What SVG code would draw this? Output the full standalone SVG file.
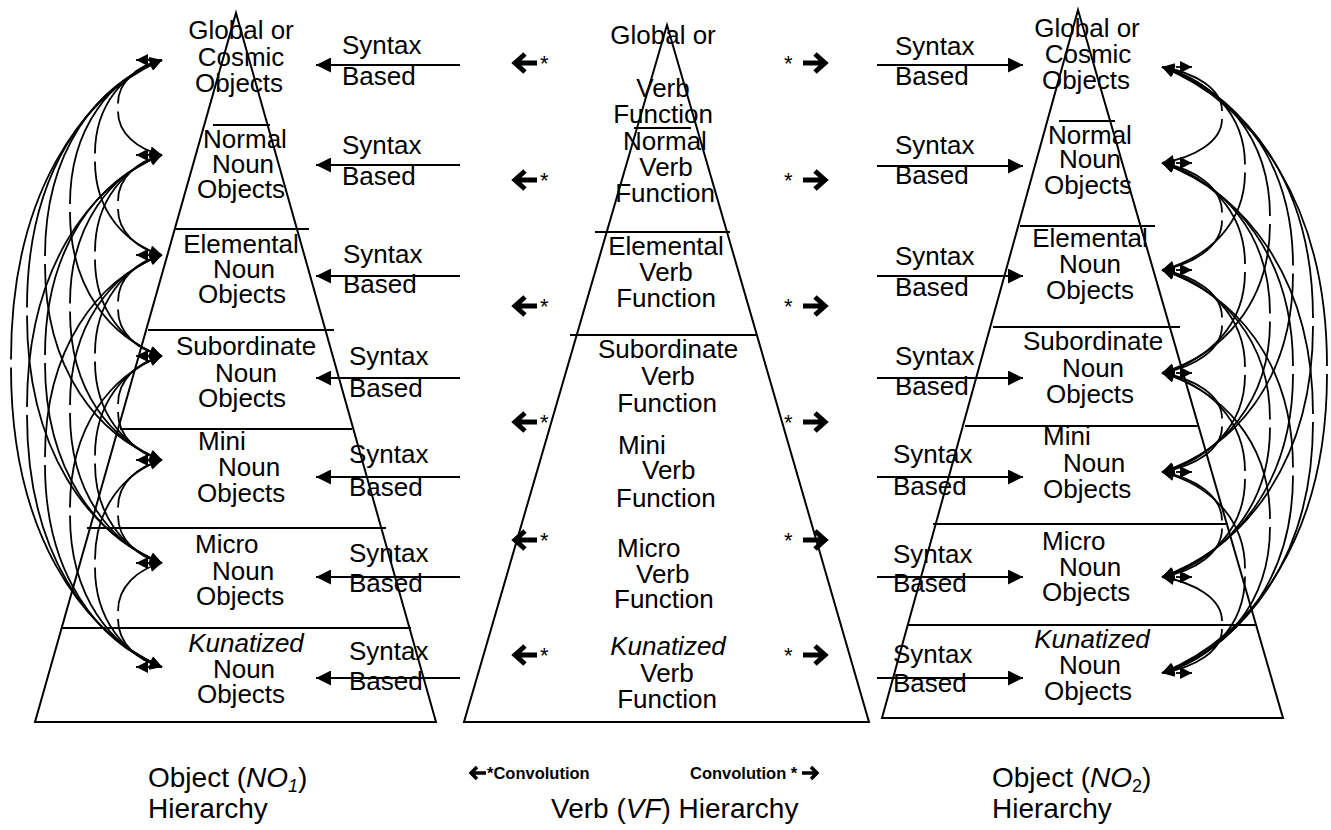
<svg xmlns="http://www.w3.org/2000/svg" width="1331" height="830" viewBox="0 0 1331 830">
  <defs>
    <style>
      .t { font-family: "Liberation Sans", Arial, sans-serif; font-size: 26px; fill: #000; }
      .cap { font-family: "Liberation Sans", Arial, sans-serif; font-size: 28px; fill: #000; }
      .c { text-anchor: middle; }
      .i { font-style: italic; }
      .ast { font-family: "Liberation Sans", Arial, sans-serif; font-size: 22px; fill: #000; }
      .leg { font-family: "Liberation Sans", Arial, sans-serif; font-size: 16.5px; font-weight: bold; fill: #000; }
      .edge { fill: none; stroke: #000; stroke-width: 2; }
      .div { stroke: #000; stroke-width: 2; }
      .syn { stroke: #000; stroke-width: 2; fill: none; marker-end: url(#tri); }
      .arc { fill: none; stroke: #000; stroke-width: 1.8; marker-start: url(#ah); marker-end: url(#ah); }
      .stub { fill: none; stroke: #000; stroke-width: 1.8; marker-end: url(#ah); }
      .conv { fill: none; stroke: #000; stroke-width: 5; stroke-linejoin: miter; }
    </style>
    <marker id="tri" viewBox="0 0 10 10" refX="10" refY="5" markerWidth="18" markerHeight="15" markerUnits="userSpaceOnUse" orient="auto">
      <path d="M0,0 L10,5 L0,10 z" fill="#000"/>
    </marker>
    <marker id="ah" viewBox="0 0 10 10" refX="10" refY="5" markerWidth="14" markerHeight="12" markerUnits="userSpaceOnUse" orient="auto-start-reverse">
      <path d="M0,0 L10,5 L0,10 z" fill="#000"/>
    </marker>
  </defs>
  <rect width="1331" height="830" fill="#fff"/>

  <!-- Object hierarchy NO1 (left pyramid) -->
  <g id="no1-pyramid">
    <polygon class="edge" points="236,13 436,722 35,722"/>
    <line class="div" x1="213" y1="125" x2="270" y2="125"/>
    <line class="div" x1="175" y1="229" x2="309" y2="229"/>
    <line class="div" x1="148" y1="330" x2="334" y2="330"/>
    <line class="div" x1="120" y1="429" x2="352" y2="429"/>
    <line class="div" x1="87" y1="528" x2="386" y2="528"/>
    <line class="div" x1="62" y1="628" x2="411" y2="628"/>
  </g>
  <g id="no1-global">
    <text class="t c" x="241" y="39">Global or</text>
    <text class="t c" x="241" y="66">Cosmic</text>
    <text class="t c" x="239" y="92">Objects</text>
  </g>
  <g id="no1-normal">
    <text class="t c" x="245" y="148">Normal</text>
    <text class="t c" x="243" y="173">Noun</text>
    <text class="t c" x="241" y="198">Objects</text>
  </g>
  <g id="no1-elemental">
    <text class="t c" x="241" y="253">Elemental</text>
    <text class="t c" x="244" y="278">Noun</text>
    <text class="t c" x="242" y="303">Objects</text>
  </g>
  <g id="no1-subordinate">
    <text class="t c" x="246" y="355">Subordinate</text>
    <text class="t c" x="246" y="382">Noun</text>
    <text class="t c" x="242" y="407">Objects</text>
  </g>
  <g id="no1-mini">
    <text class="t" x="198" y="450">Mini</text>
    <text class="t" x="218" y="476">Noun</text>
    <text class="t" x="197" y="502">Objects</text>
  </g>
  <g id="no1-micro">
    <text class="t" x="195" y="553">Micro</text>
    <text class="t" x="212" y="580">Noun</text>
    <text class="t" x="196" y="605">Objects</text>
  </g>
  <g id="no1-kunatized">
    <text class="t c i" x="246" y="652">Kunatized</text>
    <text class="t c" x="244" y="678">Noun</text>
    <text class="t c" x="241" y="703">Objects</text>
  </g>

  <!-- Verb hierarchy VF (middle pyramid) -->
  <g id="vf-pyramid">
    <polygon class="edge" points="667,25 869,722 464,722"/>
    <line class="div" x1="634" y1="128" x2="691" y2="128"/>
    <line class="div" x1="595" y1="232" x2="730" y2="232"/>
    <line class="div" x1="570" y1="335" x2="756" y2="335"/>
  </g>
  <g id="vf-global">
    <text class="t c" x="663" y="44">Global or</text>
    <text class="t c" x="663" y="97">Verb</text>
    <text class="t c" x="663" y="123">Function</text>
  </g>
  <g id="vf-normal">
    <text class="t c" x="665" y="150">Normal</text>
    <text class="t c" x="666" y="176">Verb</text>
    <text class="t c" x="665" y="202">Function</text>
  </g>
  <g id="vf-elemental">
    <text class="t c" x="666" y="255">Elemental</text>
    <text class="t c" x="666" y="281">Verb</text>
    <text class="t c" x="666" y="307">Function</text>
  </g>
  <g id="vf-subordinate">
    <text class="t c" x="668" y="358">Subordinate</text>
    <text class="t c" x="668" y="385">Verb</text>
    <text class="t c" x="667" y="412">Function</text>
  </g>
  <g id="vf-mini">
    <text class="t" x="618" y="454">Mini</text>
    <text class="t" x="642" y="479">Verb</text>
    <text class="t" x="616" y="507">Function</text>
  </g>
  <g id="vf-micro">
    <text class="t" x="617" y="557">Micro</text>
    <text class="t" x="636" y="583">Verb</text>
    <text class="t" x="614" y="608">Function</text>
  </g>
  <g id="vf-kunatized">
    <text class="t c i" x="668" y="655">Kunatized</text>
    <text class="t c" x="667" y="682">Verb</text>
    <text class="t c" x="667" y="708">Function</text>
  </g>

  <!-- Object hierarchy NO2 (right pyramid) -->
  <g id="no2-pyramid">
    <polygon class="edge" points="1078,10 1283,718 882,718"/>
    <line class="div" x1="1059" y1="121" x2="1115" y2="121"/>
    <line class="div" x1="1020" y1="226" x2="1155" y2="226"/>
    <line class="div" x1="993" y1="327" x2="1180" y2="327"/>
    <line class="div" x1="965" y1="426" x2="1198" y2="426"/>
    <line class="div" x1="933" y1="524" x2="1228" y2="524"/>
    <line class="div" x1="908" y1="625" x2="1257" y2="625"/>
  </g>
  <g id="no2-global">
    <text class="t c" x="1087" y="37">Global or</text>
    <text class="t c" x="1088" y="63">Cosmic</text>
    <text class="t c" x="1086" y="89">Objects</text>
  </g>
  <g id="no2-normal">
    <text class="t c" x="1090" y="144">Normal</text>
    <text class="t c" x="1090" y="168">Noun</text>
    <text class="t c" x="1088" y="194">Objects</text>
  </g>
  <g id="no2-elemental">
    <text class="t c" x="1090" y="247">Elemental</text>
    <text class="t c" x="1090" y="273">Noun</text>
    <text class="t c" x="1090" y="299">Objects</text>
  </g>
  <g id="no2-subordinate">
    <text class="t c" x="1093" y="350">Subordinate</text>
    <text class="t c" x="1093" y="377">Noun</text>
    <text class="t c" x="1090" y="403">Objects</text>
  </g>
  <g id="no2-mini">
    <text class="t" x="1043" y="445">Mini</text>
    <text class="t" x="1063" y="472">Noun</text>
    <text class="t" x="1043" y="498">Objects</text>
  </g>
  <g id="no2-micro">
    <text class="t" x="1042" y="550">Micro</text>
    <text class="t" x="1059" y="576">Noun</text>
    <text class="t" x="1042" y="601">Objects</text>
  </g>
  <g id="no2-kunatized">
    <text class="t c i" x="1092" y="648">Kunatized</text>
    <text class="t c" x="1090" y="674">Noun</text>
    <text class="t c" x="1088" y="700">Objects</text>
  </g>

  <!-- Syntax Based labels -->
  <g id="syntax-labels-left">
    <text class="t" x="342" y="54">Syntax</text><text class="t" x="342" y="85">Based</text>
    <text class="t" x="342" y="154">Syntax</text><text class="t" x="342" y="185">Based</text>
    <text class="t" x="343" y="263">Syntax</text><text class="t" x="343" y="293">Based</text>
    <text class="t" x="349" y="365">Syntax</text><text class="t" x="349" y="397">Based</text>
    <text class="t" x="349" y="463">Syntax</text><text class="t" x="349" y="496">Based</text>
    <text class="t" x="349" y="562">Syntax</text><text class="t" x="349" y="592">Based</text>
    <text class="t" x="349" y="660">Syntax</text><text class="t" x="349" y="690">Based</text>
  </g>
  <g id="syntax-labels-right">
    <text class="t" x="895" y="55">Syntax</text><text class="t" x="895" y="85">Based</text>
    <text class="t" x="895" y="154">Syntax</text><text class="t" x="895" y="184">Based</text>
    <text class="t" x="895" y="265">Syntax</text><text class="t" x="895" y="296">Based</text>
    <text class="t" x="895" y="365">Syntax</text><text class="t" x="895" y="395">Based</text>
    <text class="t" x="893" y="463">Syntax</text><text class="t" x="893" y="495">Based</text>
    <text class="t" x="893" y="563">Syntax</text><text class="t" x="893" y="592">Based</text>
    <text class="t" x="893" y="663">Syntax</text><text class="t" x="893" y="692">Based</text>
  </g>

  <!-- Convolution asterisks -->
  <g id="convolution-marks">
    <text class="ast" x="540" y="71">*</text><text class="ast" x="784" y="71">*</text>
    <text class="ast" x="540" y="188">*</text><text class="ast" x="784" y="188">*</text>
    <text class="ast" x="540" y="314">*</text><text class="ast" x="784" y="314">*</text>
    <text class="ast" x="540" y="430">*</text><text class="ast" x="784" y="430">*</text>
    <text class="ast" x="540" y="548">*</text><text class="ast" x="784" y="548">*</text>
    <text class="ast" x="540" y="663">*</text><text class="ast" x="784" y="663">*</text>
  </g>

  <!-- Captions -->
  <g id="captions">
    <text class="cap" x="148" y="787">Object (<tspan class="i">NO</tspan><tspan class="i" font-size="18" dy="5">1</tspan><tspan dy="-5">)</tspan></text>
    <text class="cap" x="148" y="818">Hierarchy</text>
    <text class="cap" x="551" y="818">Verb (<tspan class="i">VF</tspan>) Hierarchy</text>
    <text class="leg" x="487" y="779">*Convolution</text>
    <text class="leg" x="690" y="779">Convolution *</text>
    <text class="cap" x="992" y="787">Object (<tspan class="i">NO</tspan><tspan font-size="18" dy="5">2</tspan><tspan dy="-5">)</tspan></text>
    <text class="cap" x="992" y="818">Hierarchy</text>
  </g>

  <!-- Connectors -->
  <g id="connectors">
    <!-- syntax arrows into NO1 -->
    <path class="syn" d="M460,65 H316"/>
    <path class="syn" d="M460,165 H316"/>
    <path class="syn" d="M460,276 H316"/>
    <path class="syn" d="M460,378 H316"/>
    <path class="syn" d="M460,477 H316"/>
    <path class="syn" d="M460,577 H316"/>
    <path class="syn" d="M460,678 H316"/>
    <!-- syntax arrows into NO2 -->
    <path class="syn" d="M877,65 H1023"/>
    <path class="syn" d="M877,166 H1023"/>
    <path class="syn" d="M877,276 H1023"/>
    <path class="syn" d="M877,378 H1023"/>
    <path class="syn" d="M877,477 H1023"/>
    <path class="syn" d="M877,577 H1023"/>
    <path class="syn" d="M877,678 H1023"/>

    <!-- bold convolution arrows beside the verb hierarchy -->
    <path class="conv" d="M537,63 H517 M525,54 L515,63 L525,72"/>
    <path class="conv" d="M537,180 H517 M525,171 L515,180 L525,189"/>
    <path class="conv" d="M537,306 H517 M525,297 L515,306 L525,315"/>
    <path class="conv" d="M537,422 H517 M525,413 L515,422 L525,431"/>
    <path class="conv" d="M537,540 H517 M525,531 L515,540 L525,549"/>
    <path class="conv" d="M537,655 H517 M525,646 L515,655 L525,664"/>
    <path class="conv" d="M803,63 H823 M815,54 L825,63 L815,72"/>
    <path class="conv" d="M803,180 H823 M815,171 L825,180 L815,189"/>
    <path class="conv" d="M803,306 H823 M815,297 L825,306 L815,315"/>
    <path class="conv" d="M803,422 H823 M815,413 L825,422 L815,431"/>
    <path class="conv" d="M803,540 H823 M815,531 L825,540 L815,549"/>
    <path class="conv" d="M803,655 H823 M815,646 L825,655 L815,664"/>
    <path class="conv" style="stroke-width:3.5" d="M486,773 H472 M477,767 L471,773 L477,779"/>
    <path class="conv" style="stroke-width:3.5" d="M802,773 H816 M811,767 L817,773 L811,779"/>

    <!-- NO1 cross-level arcs -->
    <path class="stub" d="M150,60 H136"/>
    <path class="stub" d="M150,155 H136"/>
    <path class="stub" d="M150,255 H136"/>
    <path class="stub" d="M150,356 H136"/>
    <path class="stub" d="M150,460 H136"/>
    <path class="stub" d="M150,563 H136"/>
    <path class="stub" d="M150,667 H136"/>
    <path class="arc" d="M162,60 C137.8,65.7 118,81.4 118,103.5 M118,111.5 C118,133.6 137.8,149.3 162,155"/>
    <path class="arc" d="M162,155 C137.8,161 118,177.5 118,201 M118,209 C118,232.5 137.8,249 162,255"/>
    <path class="arc" d="M162,255 C137.8,261.1 118,277.7 118,301.5 M118,309.5 C118,333.3 137.8,349.9 162,356"/>
    <path class="arc" d="M162,356 C137.8,362.2 118,379.4 118,404 M118,412 C118,436.6 137.8,453.8 162,460"/>
    <path class="arc" d="M162,460 C137.8,466.2 118,483.2 118,507.5 M118,515.5 C118,539.8 137.8,556.8 162,563"/>
    <path class="arc" d="M162,563 C137.8,569.2 118,586.4 118,611 M118,619 C118,643.6 137.8,660.8 162,667"/>
    <path class="arc" d="M162,60 C125.1,71.7 95,103.9 95,153.5 M95,161.5 C95,211.1 125.1,243.3 162,255"/>
    <path class="arc" d="M162,155 C125.1,167.1 95,200.2 95,251.5 M95,259.5 C95,310.8 125.1,343.9 162,356"/>
    <path class="arc" d="M162,255 C125.1,267.3 95,301.1 95,353.5 M95,361.5 C95,413.9 125.1,447.7 162,460"/>
    <path class="arc" d="M162,356 C125.1,368.4 95,402.6 95,455.5 M95,463.5 C95,516.4 125.1,550.6 162,563"/>
    <path class="arc" d="M162,460 C125.1,472.4 95,506.6 95,559.5 M95,567.5 C95,620.4 125.1,654.6 162,667"/>
    <path class="arc" d="M162,60 C111.4,77.8 70,126.6 70,204 M70,212 C70,289.4 111.4,338.2 162,356"/>
    <path class="arc" d="M162,155 C111.4,173.3 70,223.6 70,303.5 M70,311.5 C70,391.4 111.4,441.7 162,460"/>
    <path class="arc" d="M162,255 C111.4,273.5 70,324.3 70,405 M70,413 C70,493.7 111.4,544.5 162,563"/>
    <path class="arc" d="M162,356 C111.4,374.7 70,426 70,507.5 M70,515.5 C70,597 111.4,648.3 162,667"/>
    <path class="arc" d="M162,60 C97.6,84 45,150 45,256 M45,264 C45,370 97.6,436 162,460"/>
    <path class="arc" d="M162,155 C97.6,179.5 45,246.8 45,355 M45,363 C45,471.2 97.6,538.5 162,563"/>
    <path class="arc" d="M162,255 C97.6,279.7 45,347.7 45,457 M45,465 C45,574.3 97.6,642.3 162,667"/>
    <path class="arc" d="M162,60 C87.7,90.2 27,173.2 27,307.5 M27,315.5 C27,449.8 87.7,532.8 162,563"/>
    <path class="arc" d="M162,155 C87.7,185.7 27,270.2 27,407 M27,415 C27,551.8 87.7,636.3 162,667"/>
    <path class="arc" d="M162,60 C79,96.4 11,196.6 11,359.5 M11,367.5 C11,530.4 79,630.6 162,667"/>

    <!-- NO2 cross-level arcs -->
    <path class="stub" d="M1176,67 H1192"/>
    <path class="stub" d="M1176,163 H1192"/>
    <path class="stub" d="M1176,270 H1192"/>
    <path class="stub" d="M1176,373 H1192"/>
    <path class="stub" d="M1176,472 H1192"/>
    <path class="stub" d="M1176,577 H1192"/>
    <path class="stub" d="M1176,673 H1192"/>
    <path class="arc" d="M1162,67 C1195,72.8 1222,88.6 1222,111 M1222,119 C1222,141.4 1195,157.2 1162,163"/>
    <path class="arc" d="M1162,163 C1195,169.4 1222,187.1 1222,212.5 M1222,220.5 C1222,245.9 1195,263.6 1162,270"/>
    <path class="arc" d="M1162,270 C1195,276.2 1222,293.2 1222,317.5 M1222,325.5 C1222,349.8 1195,366.8 1162,373"/>
    <path class="arc" d="M1162,373 C1195,378.9 1222,395.3 1222,418.5 M1222,426.5 C1222,449.7 1195,466.1 1162,472"/>
    <path class="arc" d="M1162,472 C1195,478.3 1222,495.6 1222,520.5 M1222,528.5 C1222,553.4 1195,570.7 1162,577"/>
    <path class="arc" d="M1162,577 C1195,582.8 1222,598.6 1222,621 M1222,629 C1222,651.4 1195,667.2 1162,673"/>
    <path class="arc" d="M1162,67 C1207.7,79.2 1245,112.7 1245,164.5 M1245,172.5 C1245,224.3 1207.7,257.8 1162,270"/>
    <path class="arc" d="M1162,163 C1207.7,175.6 1245,210.2 1245,264 M1245,272 C1245,325.8 1207.7,360.4 1162,373"/>
    <path class="arc" d="M1162,270 C1207.7,282.1 1245,315.4 1245,367 M1245,375 C1245,426.6 1207.7,459.9 1162,472"/>
    <path class="arc" d="M1162,373 C1207.7,385.2 1245,418.9 1245,471 M1245,479 C1245,531.1 1207.7,564.8 1162,577"/>
    <path class="arc" d="M1162,472 C1207.7,484.1 1245,517.2 1245,568.5 M1245,576.5 C1245,627.8 1207.7,660.9 1162,673"/>
    <path class="arc" d="M1162,67 C1221.4,85.4 1270,135.8 1270,216 M1270,224 C1270,304.2 1221.4,354.6 1162,373"/>
    <path class="arc" d="M1162,163 C1221.4,181.5 1270,232.5 1270,313.5 M1270,321.5 C1270,402.5 1221.4,453.5 1162,472"/>
    <path class="arc" d="M1162,270 C1221.4,288.4 1270,339.1 1270,419.5 M1270,427.5 C1270,507.9 1221.4,558.6 1162,577"/>
    <path class="arc" d="M1162,373 C1221.4,391 1270,440.5 1270,519 M1270,527 C1270,605.5 1221.4,655 1162,673"/>
    <path class="arc" d="M1162,67 C1234.1,91.3 1293,158.1 1293,265.5 M1293,273.5 C1293,380.9 1234.1,447.7 1162,472"/>
    <path class="arc" d="M1162,163 C1234.1,187.8 1293,256.1 1293,366 M1293,374 C1293,483.9 1234.1,552.2 1162,577"/>
    <path class="arc" d="M1162,270 C1234.1,294.2 1293,360.7 1293,467.5 M1293,475.5 C1293,582.3 1234.1,648.8 1162,673"/>
    <path class="arc" d="M1162,67 C1245.1,97.6 1313,181.7 1313,318 M1313,326 C1313,462.3 1245.1,546.4 1162,577"/>
    <path class="arc" d="M1162,163 C1245.1,193.6 1313,277.7 1313,414 M1313,422 C1313,558.3 1245.1,642.4 1162,673"/>
    <path class="arc" d="M1162,67 C1252.8,103.4 1327,203.3 1327,366 M1327,374 C1327,536.7 1252.8,636.6 1162,673"/>
  </g>
</svg>
